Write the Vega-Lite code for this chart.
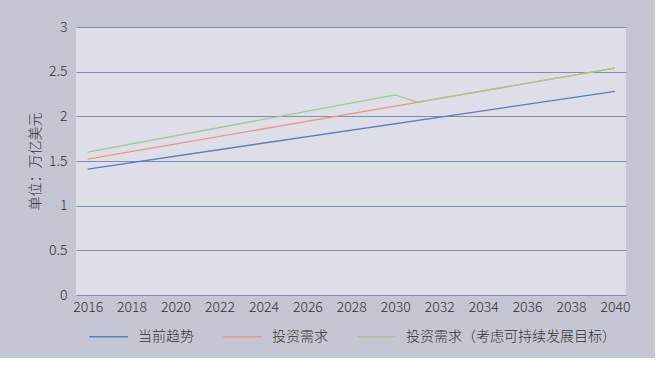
{
  "$schema": "https://vega.github.io/schema/vega-lite/v6.json",
  "autosize": {"type": "none"},
  "width": 550,
  "height": 268,
  "padding": {"left": 76, "top": 27, "right": 29, "bottom": 63},
  "background": "#c4c6d4",
  "config": {
    "view": {"fill": "#dddee8", "stroke": null},
    "font": "Noto Sans CJK SC",
    "axis": {"labelFont": "Noto Sans CJK SC", "titleFont": "Noto Sans CJK SC", "labelColor": "#333333", "titleColor": "#333333", "labelFontSize": 14, "titleFontSize": 14, "titleFontWeight": 300, "labelFontWeight": 300},
    "legend": {"labelFont": "Noto Sans CJK SC", "labelFontSize": 14, "labelFontWeight": 300, "labelColor": "#333333", "labelLimit": 400}
  },
  "data": {
    "values": [
      {"year": 2016, "value": 1.41, "series": "当前趋势"},
      {"year": 2040, "value": 2.28, "series": "当前趋势"},
      {"year": 2016, "value": 1.52, "series": "投资需求"},
      {"year": 2030, "value": 2.115, "series": "投资需求"},
      {"year": 2040, "value": 2.54, "series": "投资需求"},
      {"year": 2016, "value": 1.60, "series": "投资需求（考虑可持续发展目标）"},
      {"year": 2030, "value": 2.24, "series": "投资需求（考虑可持续发展目标）"},
      {"year": 2031, "value": 2.16, "series": "投资需求（考虑可持续发展目标）"},
      {"year": 2040, "value": 2.54, "series": "投资需求（考虑可持续发展目标）"}
    ]
  },
  "mark": {"type": "line", "strokeWidth": 1.3, "clip": false},
  "encoding": {
    "x": {
      "field": "year", "type": "quantitative",
      "scale": {"domain": [2015.47, 2040.5], "nice": false, "zero": false},
      "axis": {"values": [2016, 2018, 2020, 2022, 2024, 2026, 2028, 2030, 2032, 2034, 2036, 2038, 2040], "format": "d", "grid": false, "ticks": false, "domain": false, "labelPadding": 5, "title": null, "labelFlush": false}
    },
    "y": {
      "field": "value", "type": "quantitative",
      "scale": {"domain": [0, 3], "nice": false},
      "axis": {"values": [0, 0.5, 1, 1.5, 2, 2.5, 3], "labelExpr": "'' + datum.value", "grid": true, "gridColor": "#7f8fae", "gridOpacity": 1, "gridWidth": 1, "ticks": false, "domain": false, "labelPadding": 9, "title": "单位：万亿美元", "titlePadding": 6}
    },
    "color": {
      "field": "series", "type": "nominal",
      "scale": {"domain": ["当前趋势", "投资需求", "投资需求（考虑可持续发展目标）"], "range": ["#5a7dbf", "#ec9a7c", "#9fcc8c"]},
      "legend": {"title": null, "orient": "none", "direction": "horizontal", "legendX": 12, "legendY": 289, "symbolType": "stroke", "symbolSize": 1500, "symbolStrokeWidth": 1.3, "labelOffset": 9, "columnPadding": 26}
    }
  }
}
